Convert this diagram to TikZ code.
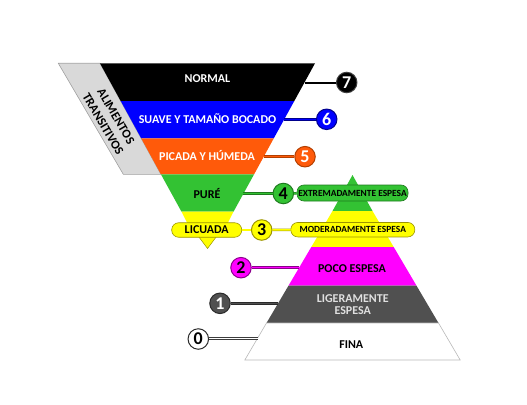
\documentclass[tikz,border=0pt]{standalone}
\usepackage{fontspec}
\setmainfont{Carlito}
\definecolor{cblack}{HTML}{000000}
\definecolor{cblue}{HTML}{0000FF}
\definecolor{cblueD}{HTML}{00008C}
\definecolor{corange}{HTML}{FF5A0A}
\definecolor{corangeD}{HTML}{B33F00}
\definecolor{cgreen}{HTML}{33C233}
\definecolor{cgreenD}{HTML}{1E7A1E}
\definecolor{cyellow}{HTML}{FFFF00}
\definecolor{cyellowD}{HTML}{9C9400}
\definecolor{cmag}{HTML}{FF00FF}
\definecolor{cmagD}{HTML}{8C008C}
\definecolor{cdgray}{HTML}{505050}
\definecolor{cdgrayD}{HTML}{2A2A2A}
\definecolor{cpar}{HTML}{D9D9D9}
\definecolor{cparD}{HTML}{A0A0A0}
\definecolor{clineW}{HTML}{3C3C3C}
\begin{document}
\begin{tikzpicture}[x=1pt,y=-1pt,
  lbl/.style={font=\bfseries\fontsize{12}{13}\selectfont, inner sep=0pt},
  blbl/.style={font=\bfseries\fontsize{9.4}{10}\selectfont},
  numc/.style={circle, minimum size=20.5pt, inner sep=0pt, line width=1pt, font=\bfseries\fontsize{18}{18}\selectfont},
  conn/.style={line width=0.5pt, double distance=1.5pt},
  banner/.style={rounded corners=7pt, line width=0.6pt, inner sep=0pt, minimum height=15pt},
]
\useasboundingbox (0,0) rectangle (527,404);

% transitional foods band
\filldraw[fill=cpar, draw=cparD, line width=0.6pt] (58.3,63.3) -- (100,63.3) -- (160.9,174.3) -- (123.3,174.3) -- cycle;
\node[font=\bfseries\fontsize{12.5}{15}\selectfont, inner sep=0pt, rotate=-59.6, align=center] (alt) at (109.6,120.3) {ALIMENTOS\\TRANSITIVOS};

% inverted triangle (foods)
\fill[cblack] (100,63.3) -- (315,63.3) -- (294.3,101) -- (120.7,101) -- cycle;
\fill[cblue] (120.7,101) -- (294.3,101) -- (273.8,138.3) -- (141.2,138.3) -- cycle;
\fill[corange] (141.2,138.3) -- (273.8,138.3) -- (254.1,174.3) -- (160.9,174.3) -- cycle;
\fill[cgreen] (160.9,174.3) -- (254.1,174.3) -- (233.5,211.7) -- (181.5,211.7) -- cycle;
\fill[cyellow] (181.5,211.7) -- (233.5,211.7) -- (227.3,224) -- (187.7,224) -- cycle;
\filldraw[fill=cyellow, draw=cyellowD, line width=0.5pt] (198.5,236.5) -- (216.5,236.5) -- (207.5,248.5) -- cycle;

% pyramid (liquids)
\fill[cgreen] (352.5,175) -- (372.5,211) -- (332.5,211) -- cycle;
\fill[cyellow] (332.5,211) -- (372.5,211) -- (393.7,247) -- (311.3,247) -- cycle;
\fill[cmag] (311.3,247) -- (393.7,247) -- (416.4,285.5) -- (288.6,285.5) -- cycle;
\fill[cdgray] (288.6,285.5) -- (416.4,285.5) -- (438.5,323) -- (266.5,323) -- cycle;
\filldraw[fill=white, draw=gray!55, line width=0.6pt] (266.5,323) -- (438.5,323) -- (460.2,360) -- (244.8,360) -- cycle;

% edge points
\coordinate (ea) at (304.5,82.5);
\coordinate (eb) at (284.3,119.3);
\coordinate (ec) at (263.7,156.7);
\coordinate (ed) at (243.2,193.5);
\coordinate (ef) at (299.1,267.7);
\coordinate (eg) at (278.2,303.3);
\coordinate (eh) at (257.6,338.5);
\coordinate (sh) at (208.5,338.5);

% connector 0 (drawn early, under the circle)
\draw[line width=2.8pt, draw=clineW] (sh) -- (eh);
\draw[line width=1.2pt, draw=white] (sh) -- (eh);

% banners
\node[banner, blbl, fill=cgreen, draw=cgreenD, minimum width=111pt, minimum height=16pt] (bx) at (352.5,193) {EXTREMADAMENTE ESPESA};
\node[banner, blbl, fill=cyellow, draw=cyellowD, minimum width=124pt, minimum height=14.5pt] (bm) at (352.8,229.7) {MODERADAMENTE ESPESA};
\node[banner, lbl, fill=cyellow, draw=cyellowD, minimum width=70pt, minimum height=14.5pt] (lic) at (206.7,230) {LICUADA};

% labels
\node[lbl, text=white] (tn) at (207.5,78.3) {NORMAL};
\node[lbl, text=white] (ts) at (207.5,118.3) {SUAVE Y TAMAÑO BOCADO};
\node[lbl, text=white] (tp) at (207,156) {PICADA Y HÚMEDA};
\node[lbl] (tu) at (207,194) {PURÉ};
\node[lbl] (tpe) at (352,269) {POCO ESPESA};
\node[lbl, text=white!88!black, align=center, font=\bfseries\fontsize{12}{12.7}\selectfont] (tl) at (352.7,304.7) {LIGERAMENTE\\ESPESA};
\node[lbl] (tf) at (351.3,344.3) {FINA};

% number circles
\node[numc, fill=black, draw=black!75, text=white] (na) at (346.7,82.5) {7};
\node[numc, fill=cblue, draw=cblueD, text=white] (nb) at (326.7,119.3) {6};
\node[numc, fill=corange, draw=corangeD, text=white] (nc) at (305,156.7) {5};
\node[numc, fill=cgreen, draw=cgreenD] (nd) at (283.3,193.5) {4};
\node[numc, fill=cyellow, draw=cyellowD] (ne) at (261.7,230) {3};
\node[numc, fill=cmag, draw=cmagD] (nf) at (241,267.7) {2};
\node[numc, fill=cdgray, draw=cdgrayD, text=white] (ng) at (220,303.3) {1};
\node[numc, fill=white, draw=cdgrayD] (nh) at (198.3,339) {0};

% connectors
\draw[line width=2pt, black] (ea) -- (na);
\draw[conn, draw=cblueD, double=cblue] (eb) -- (nb);
\draw[conn, draw=corangeD, double=corange] (ec) -- (nc);
\draw[conn, draw=cgreenD, double=cgreen] (ed) -- (nd);
\draw[conn, draw=cgreenD, double=cgreen] (nd) -- (bx);
\draw[conn, draw=cyellowD, double=cyellow] (lic) -- (ne);
\draw[conn, draw=cyellowD, double=cyellow] (ne) -- (bm);
\draw[conn, draw=cmagD, double=cmag] (nf) -- (ef);
\draw[conn, draw=cdgrayD, double=cdgray] (ng) -- (eg);
\end{tikzpicture}
\end{document}
